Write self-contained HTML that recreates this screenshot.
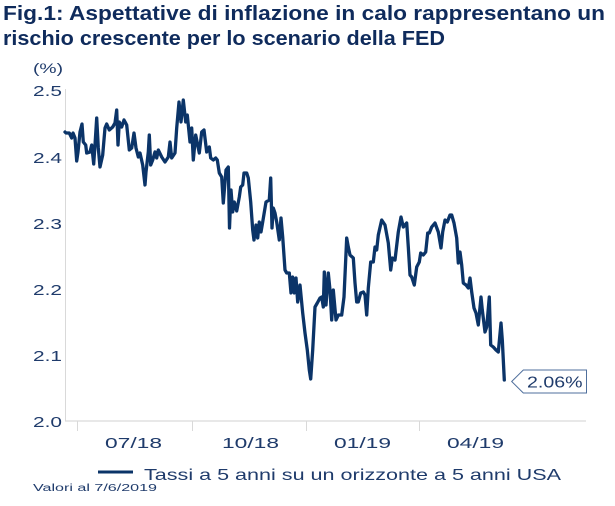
<!DOCTYPE html>
<html>
<head>
<meta charset="utf-8">
<style>
  html, body { margin:0; padding:0; background:#ffffff; }
  body { width:615px; height:506px; overflow:hidden; }
  svg { display:block; }
  text { font-family: "Liberation Sans", "DejaVu Sans", sans-serif; }
</style>
</head>
<body>
<svg width="615" height="506" viewBox="0 0 615 506" xmlns="http://www.w3.org/2000/svg">
  <!-- Title -->
  <text x="3" y="20" font-size="20.5" font-weight="bold" fill="#0f2b5c" textLength="602" lengthAdjust="spacingAndGlyphs">Fig.1: Aspettative di inflazione in calo rappresentano un</text>
  <text x="3" y="45" font-size="20.5" font-weight="bold" fill="#0f2b5c" textLength="442" lengthAdjust="spacingAndGlyphs">rischio crescente per lo scenario della FED</text>

  <!-- y unit -->
  <text x="33" y="73" font-size="14" fill="#1f3b6b" textLength="30" lengthAdjust="spacingAndGlyphs">(%)</text>

  <!-- Y axis labels -->
  <g font-size="14.5" fill="#1f3b6b">
    <text x="33" y="96" textLength="29" lengthAdjust="spacingAndGlyphs">2.5</text>
    <text x="33" y="163" textLength="29" lengthAdjust="spacingAndGlyphs">2.4</text>
    <text x="33" y="229" textLength="29" lengthAdjust="spacingAndGlyphs">2.3</text>
    <text x="33" y="295" textLength="29" lengthAdjust="spacingAndGlyphs">2.2</text>
    <text x="33" y="361" textLength="29" lengthAdjust="spacingAndGlyphs">2.1</text>
    <text x="33" y="427" textLength="29" lengthAdjust="spacingAndGlyphs">2.0</text>
  </g>

  <!-- Axes -->
  <line x1="65.5" y1="89" x2="65.5" y2="421" stroke="#d9d9d9" stroke-width="1"/>
  <line x1="65" y1="421" x2="586" y2="421" stroke="#d9d9d9" stroke-width="1.2"/>
  <g stroke="#d9d9d9" stroke-width="1">
    <line x1="77.5" y1="421" x2="77.5" y2="431"/>
    <line x1="192.5" y1="421" x2="192.5" y2="431"/>
    <line x1="306.5" y1="421" x2="306.5" y2="431"/>
    <line x1="419.5" y1="421" x2="419.5" y2="431"/>
  </g>

  <!-- X axis labels -->
  <g font-size="15" fill="#1f3b6b">
    <text x="105" y="448" textLength="57" lengthAdjust="spacingAndGlyphs">07/18</text>
    <text x="222" y="448" textLength="57" lengthAdjust="spacingAndGlyphs">10/18</text>
    <text x="334" y="448" textLength="57" lengthAdjust="spacingAndGlyphs">01/19</text>
    <text x="447" y="448" textLength="57" lengthAdjust="spacingAndGlyphs">04/19</text>
  </g>

  <!-- Series -->
  <polyline fill="none" stroke="#0b3468" stroke-width="3.3" stroke-linejoin="round" stroke-linecap="round"
    points="65,132 66,133 69.3,133 71.7,138 73,133 75,138 76.7,161 78,152 80,132 82,124 83.3,142 85.7,145 86.7,153 90,152 91.7,145 93.7,164 95,145 96.7,118 98.3,148 100,167 102.7,155 105,128 106.7,124 109.3,130 112.7,127 115,123 116.7,110 118,145 119.3,122 121.7,127 124,120 126.7,125 129.3,150 131.7,148 134,133 136,148 138.3,157 140,153 142.7,165 145,185 146,172 148.3,152 149.3,135 150.7,165 152.7,160 155,152 156.7,158 158.3,150 161.7,157 165,162 168.3,157 170,142 171.7,158 175,153 176.7,128 179,102 181,122 183.3,100 185.7,122 187.3,115 190,142 191.7,128 193.3,160 195.7,135 197.3,143 199.3,153 201.7,132 204,130 206.7,152 209.3,147 210.7,158 213.3,160 215.7,158 217.3,160 219.3,173 221.7,177 223.3,203 226,170 228.3,167 229.5,228 231,190 232.7,212 234.3,202 236.7,211 239.3,197 240.7,187 242.7,185 244,173 246.7,173 248.3,178 250.7,202 252.7,230 254,240 256,225 257.7,238 259.3,222 261,232 262.7,222 266,202 269.3,200 270.7,178 272,228 273.3,208 275,213 276.7,222 279.3,240 281,218 282.7,237 285,270 286.7,273 289.3,273 291,293 292.7,277 294.3,293 296,278 297.7,302 300,285 302.7,313 305,333 307.3,350 309.3,370 310.7,379 312.7,350 315,307 317.3,303 320,298 321.7,297 323.3,307 324.3,272 326,305 328.3,273 330,290 331.7,320 333.3,290 336,320 338.3,315 341.7,315 344,297 346.7,238 348.3,247 350,255 353.3,258 355,283 356.7,302 358.3,302 360.7,293 363.3,292 365,295 366.7,315 368.3,288 370.7,262 373.3,262 375,247 376.7,250 378.3,235 381.7,220 385,225 388.3,243 390.7,270 392.3,258 395,260 398.3,232 401,217 403.3,227 405,225 406.7,223 408.3,247 410,275 411.7,277 414.3,285 416.7,267 419.3,262 420.7,253 423.3,255 425.7,252 427.7,233 429.3,233 431.7,227 435,223 438.3,232 441,248 442.7,232 445,220 447.3,222 450,215 451.7,215 454,223 456.7,238 458.3,263 460,252 461.7,265 463.3,283 466,285 468.3,288 470,278 471.7,292 474,308 476,313 478.3,325 481,297 482.3,310 485,332 486.7,327 489.3,297 490.7,345 493.3,347 496,350 498.3,352 501,323 502.3,340 504.3,380"/>

  <!-- Value callout -->
  <polygon points="511.7,381.5 523.3,370 586.5,370 586.5,393 523.3,393" fill="#ffffff" stroke="#4f6f9c" stroke-width="1"/>
  <text x="527" y="387.5" font-size="16" fill="#1f3b6b" textLength="55.5" lengthAdjust="spacingAndGlyphs">2.06%</text>

  <!-- Legend -->
  <line x1="98" y1="472" x2="133" y2="472" stroke="#0b3468" stroke-width="3"/>
  <text x="144" y="480" font-size="16" fill="#1f3b6b" textLength="417" lengthAdjust="spacingAndGlyphs">Tassi a 5 anni su un orizzonte a 5 anni USA</text>

  <!-- Footnote -->
  <text x="33" y="491" font-size="10" fill="#1f3b6b" textLength="124" lengthAdjust="spacingAndGlyphs">Valori al 7/6/2019</text>
</svg>
</body>
</html>
